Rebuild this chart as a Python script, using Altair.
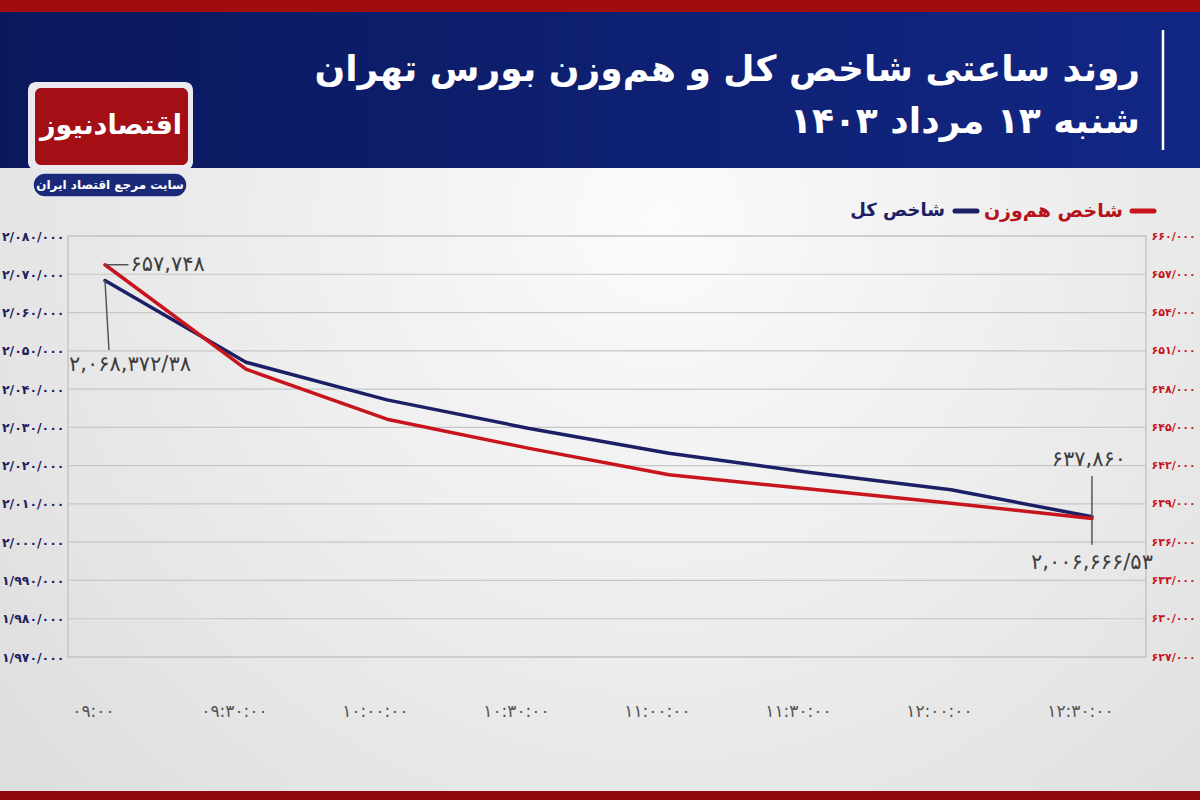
import altair as alt
import pandas as pd

# ---------------- data ----------------
times = ["09:00", "09:30", "10:00", "10:30", "11:00", "11:30", "12:00", "12:30"]
total_index = [2068372.38, 2047020, 2037180, 2029790, 2023260, 2018200, 2013680, 2006666.53]
equal_weight = [657748, 649560, 645640, 643370, 641280, 640160, 639060, 637860]

x_tick_labels = ["۰۹:۰۰", "۰۹:۳۰:۰۰", "۱۰:۰۰:۰۰", "۱۰:۳۰:۰۰",
                 "۱۱:۰۰:۰۰", "۱۱:۳۰:۰۰", "۱۲:۰۰:۰۰", "۱۲:۳۰:۰۰"]
left_ticks = [1970000, 1980000, 1990000, 2000000, 2010000, 2020000,
              2030000, 2040000, 2050000, 2060000, 2070000, 2080000]
left_tick_labels = ["۱/۹۷۰/۰۰۰", "۱/۹۸۰/۰۰۰", "۱/۹۹۰/۰۰۰", "۲/۰۰۰/۰۰۰",
                    "۲/۰۱۰/۰۰۰", "۲/۰۲۰/۰۰۰", "۲/۰۳۰/۰۰۰", "۲/۰۴۰/۰۰۰",
                    "۲/۰۵۰/۰۰۰", "۲/۰۶۰/۰۰۰", "۲/۰۷۰/۰۰۰", "۲/۰۸۰/۰۰۰"]
right_ticks = [627000, 630000, 633000, 636000, 639000, 642000,
               645000, 648000, 651000, 654000, 657000, 660000]
right_tick_labels = ["۶۲۷/۰۰۰", "۶۳۰/۰۰۰", "۶۳۳/۰۰۰", "۶۳۶/۰۰۰",
                     "۶۳۹/۰۰۰", "۶۴۲/۰۰۰", "۶۴۵/۰۰۰", "۶۴۸/۰۰۰",
                     "۶۵۱/۰۰۰", "۶۵۴/۰۰۰", "۶۵۷/۰۰۰", "۶۶۰/۰۰۰"]

ann_total_start = "۲,۰۶۸,۳۷۲/۳۸"
ann_total_end = "۲,۰۰۶,۶۶۶/۵۳"
ann_ew_start = "۶۵۷,۷۴۸"
ann_ew_end = "۶۳۷,۸۶۰"

title_line1 = "روند ساعتی شاخص کل و هم\u200cوزن بورس تهران"
title_line2 = "شنبه ۱۳ مرداد ۱۴۰۳"
legend_ew = "شاخص هم\u200cوزن"
legend_total = "شاخص کل"
logo_text = "اقتصادنیوز"
logo_sub = "سایت مرجع اقتصاد ایران"

# leader-line anchors (data units)
total_start_leader_end = 2050200
end_leader_top = 2017300
end_leader_bottom = 1999300

# ---------------- layout ----------------
FONT = "DejaVu Sans"
NAVY = "#1b2066"
RED = "#c8141c"
L, T = 68, 236            # plot-area origin on the page
W, H = 1078, 421          # plot-area size


def px(v):
    return alt.value(v - L)


def py(v):
    return alt.value(v - T)


minutes = [int(t[:2]) * 60 + int(t[3:]) - 540 for t in times]


def label_expr(values, labels):
    expr = ""
    for v, l in zip(values, labels):
        expr += f"datum.value == {v} ? '{l}' : "
    return expr + "''"


df = pd.DataFrame({"min": minutes, "total": total_index, "ew": equal_weight})
one = pd.DataFrame({"a": [0]})

x_enc = alt.X(
    "min:Q",
    scale=alt.Scale(domain=[-7.87, 221.5], nice=False, zero=False),
    axis=alt.Axis(values=minutes, labelExpr=label_expr(minutes, x_tick_labels),
                  grid=False, ticks=False, domain=False, title=None, zindex=2,
                  labelPadding=46, labelColor="#555555", labelFontSize=17,
                  labelFont=FONT, labelOffset=-12, labelFlush=False),
)

y_left = alt.Y(
    "total:Q",
    scale=alt.Scale(domain=[1970000, 2080000], nice=False, zero=False),
    axis=alt.Axis(orient="left", values=left_ticks,
                  labelExpr=label_expr(left_ticks, left_tick_labels),
                  grid=False, ticks=False, domain=False, title=None, zindex=2,
                  labelColor="#1c2160", labelFontSize=12.5, labelFontWeight="bold",
                  labelFont=FONT, labelPadding=4),
)

y_right = alt.Y(
    "ew:Q",
    scale=alt.Scale(domain=[627000, 660000], nice=False, zero=False),
    axis=alt.Axis(orient="right", values=right_ticks,
                  labelExpr=label_expr(right_ticks, right_tick_labels),
                  grid=False, ticks=False, domain=False, title=None, zindex=2,
                  labelColor="#c4161c", labelFontSize=11, labelFontWeight="bold",
                  labelFont=FONT, labelPadding=5),
)

# ---------------- decorations ----------------
bg = alt.Chart(one).mark_rect(
    color={"gradient": "radial", "x1": 0.55, "y1": 0.35, "r1": 0,
           "x2": 0.55, "y2": 0.35, "r2": 0.8,
           "stops": [{"offset": 0, "color": "#fbfbfb"},
                     {"offset": 1, "color": "#dadada"}]}
).encode(x=px(0), x2=px(1200), y=py(0), y2=py(800))

frame = alt.Chart(one).mark_rect(fill="transparent", stroke="#bdbdbd", strokeWidth=1.2).encode(
    x=alt.value(0), x2=alt.value(W), y=alt.value(0), y2=alt.value(H))

header = alt.Chart(one).mark_rect(
    color={"gradient": "linear", "x1": 0, "y1": 0, "x2": 1, "y2": 0,
           "stops": [{"offset": 0, "color": "#0a185c"},
                     {"offset": 1, "color": "#122785"}]}
).encode(x=px(0), x2=px(1200), y=py(12), y2=py(168))

top_strip = alt.Chart(one).mark_rect(color="#a00d0f").encode(
    x=px(0), x2=px(1200), y=py(0), y2=py(12))
bottom_strip = alt.Chart(one).mark_rect(color="#8e0a0c").encode(
    x=px(0), x2=px(1200), y=py(791), y2=py(800))

vline = alt.Chart(one).mark_rule(color="white", strokeWidth=2.5).encode(
    x=px(1163), y=py(30), y2=py(150))

title1 = alt.Chart(one).mark_text(text=title_line1, align="right", baseline="middle",
                                  fontSize=36, fontWeight="bold", font=FONT, color="white").encode(
    x=px(1140), y=py(70))
title2 = alt.Chart(one).mark_text(text=title_line2, align="right", baseline="middle",
                                  fontSize=36, fontWeight="bold", font=FONT, color="white").encode(
    x=px(1140), y=py(122))

logo_frame = alt.Chart(one).mark_rect(color="#e9e9ee", cornerRadius=8).encode(
    x=px(28), x2=px(193), y=py(82), y2=py(170))
logo_box = alt.Chart(one).mark_rect(color="#a30f14", cornerRadius=6).encode(
    x=px(35), x2=px(188), y=py(88), y2=py(165))
logo_txt = alt.Chart(one).mark_text(text=logo_text, align="center", baseline="middle",
                                    fontSize=27, fontWeight="bold", font=FONT, color="white").encode(
    x=px(111), y=py(126))
pill = alt.Chart(one).mark_rect(color="#1b2a78", cornerRadius=12, stroke="#e9e9ee", strokeWidth=1.5).encode(
    x=px(33), x2=px(187), y=py(173), y2=py(197))
pill_txt = alt.Chart(one).mark_text(text=logo_sub, align="center", baseline="middle",
                                    fontSize=12, fontWeight="bold", font=FONT, color="white").encode(
    x=px(110), y=py(185))

leg_red_dash = alt.Chart(one).mark_rule(color=RED, strokeWidth=5, strokeCap="round").encode(
    x=px(1132), x2=px(1154), y=py(211))
leg_red_txt = alt.Chart(one).mark_text(text=legend_ew, align="right", baseline="middle",
                                       fontSize=19, fontWeight="bold", font=FONT, color="#b5121b").encode(
    x=px(1123), y=py(211))
leg_navy_dash = alt.Chart(one).mark_rule(color=NAVY, strokeWidth=5, strokeCap="round").encode(
    x=px(955), x2=px(977), y=py(211))
leg_navy_txt = alt.Chart(one).mark_text(text=legend_total, align="right", baseline="middle",
                                        fontSize=18, fontWeight="bold", font=FONT, color=NAVY).encode(
    x=px(945), y=py(211))

# ---------------- left (total index) ----------------
grid = alt.Chart(pd.DataFrame({"total": left_ticks})).mark_rule(
    color="#c6c6c6", strokeWidth=1.2).encode(y=y_left)

blue_line = alt.Chart(df).mark_line(color=NAVY, strokeWidth=3.5, interpolate="linear",
                                    strokeCap="round", strokeJoin="round").encode(x=x_enc, y=y_left)

blue_lead1 = alt.Chart(pd.DataFrame({"min": [minutes[0]], "min2": [minutes[0] + 0.85],
                                     "total": [total_index[0]],
                                     "total2": [total_start_leader_end]})).mark_rule(
    color="#555555", strokeWidth=1.5).encode(x=x_enc, x2="min2:Q", y=y_left, y2="total2:Q")
end_lead = alt.Chart(pd.DataFrame({"min": [minutes[-1]], "total": [end_leader_top],
                                   "total2": [end_leader_bottom]})).mark_rule(
    color="#555555", strokeWidth=1.5).encode(x=x_enc, y=y_left, y2="total2:Q")

blue_t1 = alt.Chart(df.iloc[[0]]).mark_text(text=ann_total_start, dx=25, dy=84, fontSize=21,
                                            font=FONT, color="#3d3d3d").encode(x=x_enc, y=y_left)
blue_t2 = alt.Chart(df.iloc[[-1]]).mark_text(text=ann_total_end, dx=0, dy=46, fontSize=21,
                                             font=FONT, color="#3d3d3d").encode(x=x_enc, y=y_left)

left_group = alt.layer(grid, blue_line, blue_lead1, end_lead, blue_t1, blue_t2)

# ---------------- right (equal weight) ----------------
red_line = alt.Chart(df).mark_line(color=RED, strokeWidth=3.5, interpolate="linear",
                                   strokeCap="round", strokeJoin="round").encode(x=x_enc, y=y_right)
red_lead = alt.Chart(pd.DataFrame({"min": [minutes[0]], "min2": [minutes[0] + 5],
                                   "ew": [equal_weight[0]]})).mark_rule(
    color="#555555", strokeWidth=1.5).encode(x=x_enc, x2="min2:Q", y=y_right)
red_t1 = alt.Chart(pd.DataFrame({"min": [minutes[0] + 5], "ew": [equal_weight[0]]})).mark_text(
    text=ann_ew_start, align="left", dx=2, fontSize=21, font=FONT, color="#3d3d3d").encode(x=x_enc, y=y_right)
red_t2 = alt.Chart(df.iloc[[-1]]).mark_text(text=ann_ew_end, dx=-3, dy=-58, fontSize=21,
                                            font=FONT, color="#3d3d3d").encode(x=x_enc, y=y_right)

right_group = alt.layer(red_line, red_lead, red_t1, red_t2)

chart = alt.layer(
    bg, frame, left_group, right_group,
    header, top_strip, bottom_strip, vline, title1, title2,
    logo_frame, logo_box, logo_txt, pill, pill_txt,
    leg_red_dash, leg_red_txt, leg_navy_dash, leg_navy_txt,
).resolve_scale(y="independent").properties(
    width=W, height=H,
    autosize=alt.AutoSizeParams(type="none"),
    padding={"left": L, "top": T, "right": 1200 - L - W, "bottom": 800 - T - H},
    background="#e6e6e6",
).configure_view(strokeWidth=0)

chart.save("out.html", embed_options={"renderer": "svg", "actions": False})
